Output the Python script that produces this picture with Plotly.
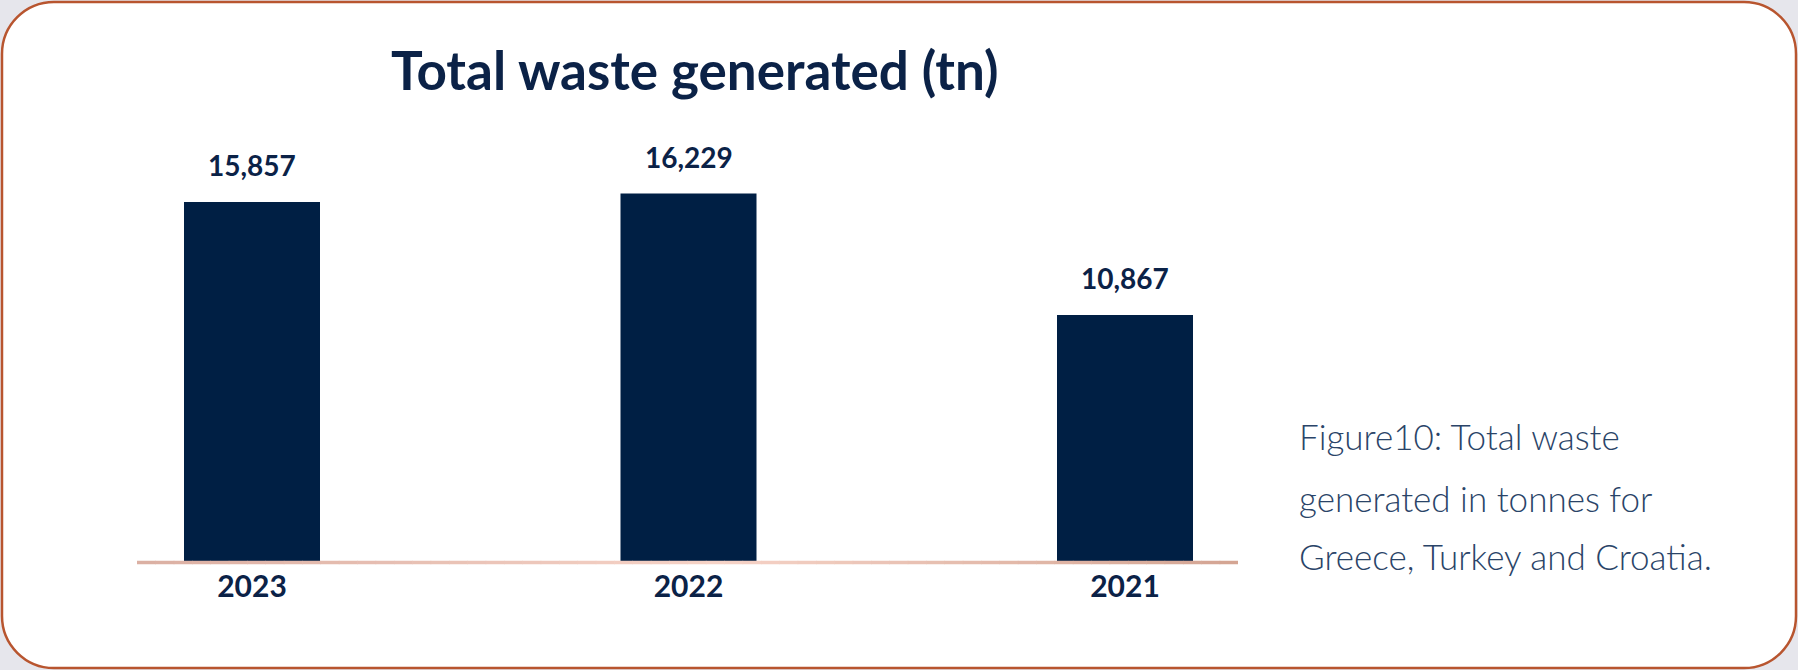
import plotly.graph_objects as go

# ---- data ----
years = ["2023", "2022", "2021"]
waste_tn = [15857, 16229, 10867]

title_text = "Total waste generated (tn)"
caption_lines = [
    "Figure10: Total waste",
    "generated in tonnes for",
    "Greece, Turkey and Croatia.",
]

# ---- canvas ----
W, H = 1798, 670
NAVY = "#001f44"
TEXT = "#0b2247"
BORDER = "#b8552f"
OUTSIDE = "#e6e6ec"


def fx(x):
    return x / W


def fy(y):
    return 1 - y / H


def rounded_rect(x0, y0, x1, y1, r):
    k = 0.5523 * r

    def p(x, y):
        return f"{fx(x):.6f},{fy(y):.6f}"

    return (
        f"M {p(x0 + r, y0)} L {p(x1 - r, y0)} "
        f"C {p(x1 - r + k, y0)} {p(x1, y0 + r - k)} {p(x1, y0 + r)} "
        f"L {p(x1, y1 - r)} "
        f"C {p(x1, y1 - r + k)} {p(x1 - r + k, y1)} {p(x1 - r, y1)} "
        f"L {p(x0 + r, y1)} "
        f"C {p(x0 + r - k, y1)} {p(x0, y1 - r + k)} {p(x0, y1 - r)} "
        f"L {p(x0, y0 + r)} "
        f"C {p(x0, y0 + r - k)} {p(x0 + r - k, y0)} {p(x0 + r, y0)} Z"
    )


# plot geometry (pixels)
AX_LEFT, AX_RIGHT = 137, 1238
BASE_Y, TOP_Y = 561, 100
PX_PER_TN = 0.02264
CAT_STEP = 436.5          # px between bar centres
FIRST_CENTER = 252
BAR_W = 136 / CAT_STEP

x_range = [(AX_LEFT - FIRST_CENTER) / CAT_STEP, (AX_RIGHT - FIRST_CENTER) / CAT_STEP]
y_range = [0, (BASE_Y - TOP_Y) / PX_PER_TN]

fig = go.Figure(
    go.Bar(
        x=years,
        y=waste_tn,
        width=[BAR_W] * len(years),
        marker=dict(color=NAVY, line=dict(width=0)),
        hoverinfo="skip",
    )
)

shapes = [
    dict(
        type="path",
        xref="paper",
        yref="paper",
        path=rounded_rect(2, 2, 1796, 668, 52),
        fillcolor="white",
        line=dict(color=BORDER, width=2.5),
        layer="below",
    )
]

# gradient baseline drawn as short segments
stops = [(0.0, (219, 175, 162)), (0.53, (246, 211, 199)), (1.0, (211, 164, 146))]


def grad_color(t):
    for (t0, c0), (t1, c1) in zip(stops, stops[1:]):
        if t0 <= t <= t1:
            u = (t - t0) / (t1 - t0)
            return "rgb(%d,%d,%d)" % tuple(round(a + (b - a) * u) for a, b in zip(c0, c1))
    return "rgb(%d,%d,%d)" % stops[-1][1]


n_seg = 60
seg = (AX_RIGHT - AX_LEFT) / n_seg
for i in range(n_seg):
    xa = AX_LEFT + i * seg
    xb = xa + seg + 0.6
    shapes.append(
        dict(
            type="line",
            xref="paper",
            yref="paper",
            x0=fx(xa),
            x1=fx(min(xb, AX_RIGHT)),
            y0=fy(BASE_Y + 1.5),
            y1=fy(BASE_Y + 1.5),
            line=dict(color=grad_color((i + 0.5) / n_seg), width=3.5),
            layer="above",
        )
    )

annotations = [
    dict(
        text=f"<b>{title_text}</b>",
        xref="paper",
        yref="paper",
        x=fx(694),
        y=fy(69),
        xanchor="center",
        yanchor="middle",
        showarrow=False,
        font=dict(family="Lato", size=53, color=TEXT),
    )
]

# value labels above each bar (category index as x position)
for i, v in enumerate(waste_tn):
    annotations.append(
        dict(
            text=f"{v:,}",
            x=i,
            y=v,
            xref="x",
            yref="y",
            xanchor="center",
            yanchor="bottom",
            yshift=18,
            showarrow=False,
            font=dict(family="Lato", size=28, color=TEXT, weight=700),
        )
    )

caption_baselines = [448, 510, 568]
for line, yb in zip(caption_lines, caption_baselines):
    annotations.append(
        dict(
            text=line,
            xref="paper",
            yref="paper",
            x=fx(1297),
            y=fy(yb - 12),
            xanchor="left",
            yanchor="middle",
            showarrow=False,
            font=dict(family="Lato", size=35, color="#2a4468", weight=300),
        )
    )

fig.update_layout(
    width=W,
    height=H,
    margin=dict(l=0, r=0, t=0, b=0),
    paper_bgcolor=OUTSIDE,
    plot_bgcolor="rgba(0,0,0,0)",
    showlegend=False,
    shapes=shapes,
    annotations=annotations,
    xaxis=dict(
        type="category",
        domain=[fx(AX_LEFT), fx(AX_RIGHT)],
        range=x_range,
        showgrid=False,
        zeroline=False,
        showline=False,
        ticks="",
        tickfont=dict(family="Lato", size=30, color=TEXT, weight=700),
        ticklabelstandoff=5,
        fixedrange=True,
    ),
    yaxis=dict(
        domain=[fy(BASE_Y), fy(TOP_Y)],
        range=y_range,
        visible=False,
        fixedrange=True,
    ),
)

fig.write_html("out.html", config={"displayModeBar": False})
